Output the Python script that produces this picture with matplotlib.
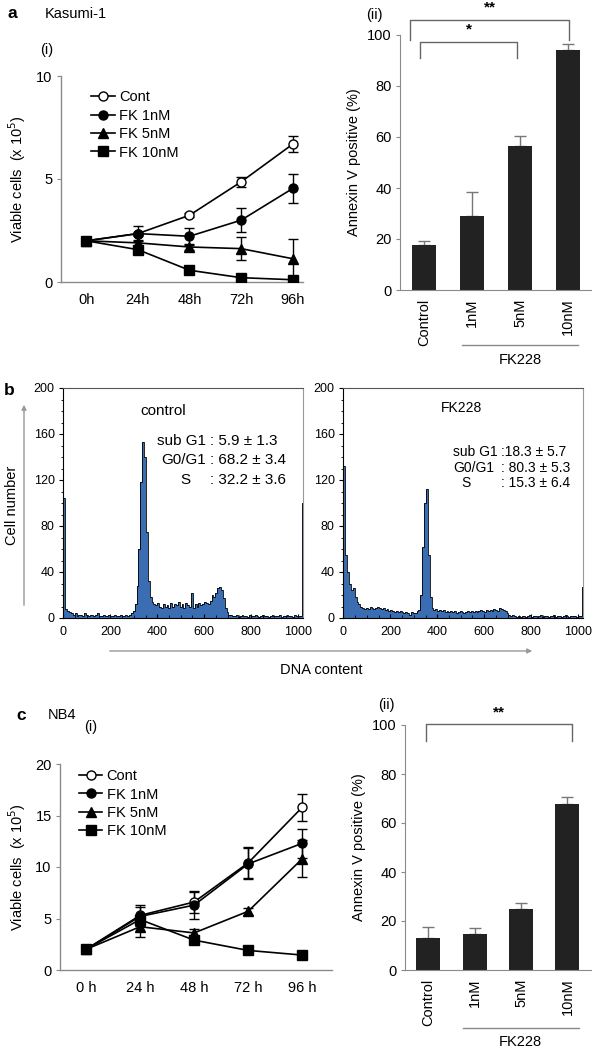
import numpy as np
import matplotlib
matplotlib.use("Agg")
import matplotlib.pyplot as plt
from matplotlib.lines import Line2D

plt.rcParams['font.family'] = ['Liberation Sans', 'DejaVu Sans']

W, H = 592, 1051

# ---- data: Kasumi-1 growth (x 10^5 cells) ----
hours = ['0h', '24h', '48h', '72h', '96h']
series_names = ['Cont', 'FK 1nM', 'FK 5nM', 'FK 10nM']
kas_cont = [2.0, 2.35, 3.24, 4.86, 6.69]
kas_cont_err = [0.05, 0.1, 0.1, 0.25, 0.38]
kas_fk1 = [2.0, 2.35, 2.22, 3.0, 4.54]
kas_fk1_err = [0.05, 0.35, 0.4, 0.57, 0.72]
kas_fk5 = [2.0, 1.9, 1.7, 1.62, 1.13]
kas_fk5_err = [0.05, 0.15, 0.15, 0.57, 0.97]
kas_fk10 = [2.0, 1.57, 0.57, 0.21, 0.11]
kas_fk10_err = [0.05, 0.08, 0.08, 0.05, 0.05]

# ---- data: Kasumi-1 annexin V ----
doses = ['Control', '1nM', '5nM', '10nM']
kas_annexin = [17.7, 29.0, 56.6, 94.0]
kas_annexin_err = [1.6, 9.6, 3.7, 2.3]

# ---- data: cell cycle histograms (8-channel bins) ----
hist_edges = np.arange(0, 1025, 8)
hist_control = [104, 8, 6, 5, 4, 3, 4, 2, 3, 3, 2, 4, 3, 2, 3, 3,
                2, 3, 4, 2, 2, 3, 2, 2, 3, 2, 2, 3, 2, 2, 3, 2,
                2, 3, 2, 3, 4, 6, 12, 28, 60, 118, 153, 140, 75, 32,
                18, 14, 12, 11, 13, 10, 9, 12, 10, 11, 9, 13, 10, 12,
                11, 14, 10, 12, 9, 13, 11, 10, 22, 9, 12, 10, 13, 11,
                12, 14, 13, 12, 15, 20, 18, 22, 26, 27, 24, 17, 9, 5,
                3, 3, 2, 2, 3, 1, 2, 3, 2, 2, 1, 3, 2, 2, 3, 2,
                1, 2, 3, 2, 2, 1, 2, 3, 2, 2, 2, 3, 1, 2, 2, 3,
                2, 2, 1, 3, 2, 2, 2, 100]
hist_fk228 = [132, 55, 40, 30, 24, 26, 18, 14, 12, 10, 9, 8, 9, 8, 10, 9,
              8, 9, 10, 9, 8, 9, 7, 8, 6, 7, 6, 5, 6, 5, 6, 5,
              4, 5, 4, 3, 5, 4, 4, 6, 7, 20, 62, 100, 112, 55, 18, 9,
              7, 8, 6, 7, 6, 7, 5, 6, 5, 6, 5, 6, 4, 5, 6, 5,
              4, 5, 6, 5, 6, 5, 6, 5, 6, 7, 6, 5, 7, 6, 7, 6,
              8, 7, 6, 9, 8, 7, 6, 4, 3, 2, 3, 2, 1, 2, 1, 2,
              2, 1, 2, 3, 1, 2, 2, 1, 2, 3, 1, 2, 2, 1, 2, 2,
              3, 1, 2, 2, 1, 2, 3, 2, 1, 2, 2, 2, 1, 2, 2, 27]
control_labels = ['sub G1', 'G0/G1', 'S']
control_values = [': 5.9 \u00b1 1.3', ': 68.2 \u00b1 3.4', ': 32.2 \u00b1 3.6']
fk_values = [':18.3 \u00b1 5.7', ': 80.3 \u00b1 5.3', ': 15.3 \u00b1 6.4']

# ---- data: NB4 growth ----
nb4_cont = [2.0, 5.3, 6.6, 10.4, 15.8]
nb4_cont_err = [0.1, 1.05, 1.1, 1.5, 1.3]
nb4_fk1 = [2.0, 5.2, 6.3, 10.3, 12.3]
nb4_fk1_err = [0.1, 0.9, 1.3, 1.5, 1.4]
nb4_fk5 = [2.0, 4.2, 3.6, 5.7, 10.8]
nb4_fk5_err = [0.1, 1.0, 0.35, 0.35, 1.8]
nb4_fk10 = [2.0, 4.9, 2.9, 1.9, 1.45]
nb4_fk10_err = [0.1, 0.2, 0.15, 0.1, 0.1]
nb4_hours = ['0 h', '24 h', '48 h', '72 h', '96 h']

# ---- data: NB4 annexin V ----
nb4_annexin = [12.9, 14.6, 24.9, 67.8]
nb4_annexin_err = [4.8, 2.4, 2.3, 2.9]

GRAY = '#8a8a8a'
BLUE = '#3b6db3'
MARKERS = ['o', 'o', '^', 's']
FACES = ['white', 'black', 'black', 'black']


def rect(left, top, right, bottom):
    return [left / W, 1 - bottom / H, (right - left) / W, (bottom - top) / H]


def ftext(x, y, s, **kw):
    fig.text(x / W, 1 - y / H, s, **kw)


def growth(ax, ys, errs, ticklabels, ylim, yticks):
    x = np.arange(len(ticklabels))
    for y, e, m, fc in zip(ys, errs, MARKERS, FACES):
        ax.errorbar(x, y, yerr=e, color='black', lw=1.2, marker=m, ms=6.5,
                    mfc=fc, mec='black', mew=1, capsize=3.5, elinewidth=1,
                    zorder=3)
    ax.set_ylim(*ylim)
    ax.set_yticks(yticks)
    ax.set_xticks(x, ticklabels)
    for s in ['top', 'right']:
        ax.spines[s].set_visible(False)
    for s in ['left', 'bottom']:
        ax.spines[s].set_color(GRAY)
        ax.spines[s].set_linewidth(1)
    ax.tick_params(axis='x', length=0, pad=8, labelsize=10.5)
    ax.tick_params(axis='y', length=3, color=GRAY, labelsize=10.5, pad=3)


def growth_legend(ax, anchor):
    handles = [Line2D([], [], color='black', lw=1.2, marker=m, ms=6.5,
                      mfc=fc, mec='black', mew=1)
               for m, fc in zip(MARKERS, FACES)]
    ax.legend(handles, series_names, loc='upper left', bbox_to_anchor=anchor,
              frameon=False, fontsize=10.5, handlelength=1.6,
              handletextpad=0.3, labelspacing=0.3, borderpad=0,
              borderaxespad=0)


def annexin(ax, vals, errs):
    x = np.arange(len(doses))
    ax.bar(x, vals, width=0.52, color='#222222', zorder=2)
    ax.errorbar(x, vals, yerr=[np.zeros(len(vals)), errs], fmt='none',
                ecolor='#777777', elinewidth=1, capsize=4, zorder=1)
    ax.set_ylim(0, 100)
    ax.set_yticks(range(0, 101, 20))
    ax.set_xticks(x, doses, rotation=90, va='top')
    for s in ['top', 'right']:
        ax.spines[s].set_visible(False)
    for s in ['left', 'bottom']:
        ax.spines[s].set_color(GRAY)
    ax.tick_params(axis='x', length=0, pad=6, labelsize=10.5)
    ax.tick_params(axis='y', length=3, color=GRAY, labelsize=10.5, pad=3)
    ax.set_ylabel('Annexin V positive (%)', fontsize=10.5, labelpad=4)


def bracket(ax, x0, x1, ytop, ybot, label):
    ax.plot([x0, x0, x1, x1], [ybot, ytop, ytop, ybot], color='#666666',
            lw=1, clip_on=False)
    ax.text((x0 + x1) / 2, ytop + 2, label, ha='center', va='bottom',
            fontsize=11, fontweight='bold', clip_on=False)


def histogram(ax, vals):
    ax.stairs(vals, hist_edges, fill=True, color=BLUE, lw=0)
    ax.stairs(vals, hist_edges, color='black', lw=0.6)
    ax.set_xlim(-2, 1022)
    ax.set_ylim(0, 200)
    ax.set_xticks(range(0, 1001, 200))
    ax.set_xticks(range(0, 1001, 50), minor=True)
    ax.set_yticks(range(0, 201, 40))
    ax.set_yticks(range(0, 201, 10), minor=True)
    ax.tick_params(axis='x', which='both', direction='in', labelsize=9, pad=6)
    ax.tick_params(axis='x', which='major', length=3)
    ax.tick_params(axis='x', which='minor', length=2)
    ax.tick_params(axis='y', which='major', length=3, labelsize=9, pad=3)
    ax.tick_params(axis='y', which='minor', length=1.5)
    ax.spines['right'].set_color('#999999')
    ax.spines['top'].set_color('#555555')
    for s in ax.spines.values():
        s.set_linewidth(0.8)


fig = plt.figure(figsize=(W / 100, H / 100), dpi=100)

# ---- panel a (i) ----
ax1 = fig.add_axes(rect(61, 76, 303, 282))
growth(ax1, [kas_cont, kas_fk1, kas_fk5, kas_fk10],
       [kas_cont_err, kas_fk1_err, kas_fk5_err, kas_fk10_err],
       hours, (0, 10), [0, 5, 10])
ax1.set_xlim(-0.49, 4.2)
ax1.set_ylabel('Viable cells  (x 10$^5$)', fontsize=10.5, labelpad=6)
growth_legend(ax1, (0.125, 0.93))
ftext(8, 14, 'a', fontsize=12.5, fontweight='bold', va='center')
ftext(45, 14, 'Kasumi-1', fontsize=10.5, va='center')
ftext(40, 50, '(i)', fontsize=10.5, va='center')

# ---- panel a (ii) ----
ax2 = fig.add_axes(rect(400, 35, 592, 290))
annexin(ax2, kas_annexin, kas_annexin_err)
ax2.set_xlim(-0.5, 3.5)
bracket(ax2, -0.29, 3.02, 105.9, 98, '**')
bracket(ax2, -0.08, 1.94, 97.3, 91, '*')
ax2.plot([0.8, 3.2], [-21.5, -21.5], color=GRAY, lw=1, clip_on=False)
ftext(520, 360, 'FK228', fontsize=10.5, ha='center', va='center')
ftext(366, 15, '(ii)', fontsize=10.5, va='center')

# ---- panel b ----
axb1 = fig.add_axes(rect(63, 388, 303, 618))
histogram(axb1, hist_control)
axb2 = fig.add_axes(rect(343, 388, 583, 618))
histogram(axb2, hist_fk228)

ftext(163, 411, 'control', fontsize=11, ha='center', va='center')
for i, (lab, val) in enumerate(zip(control_labels, control_values)):
    y = 441 + i * 19.5
    if lab == 'S':
        ftext(185, y, lab, fontsize=11, ha='center', va='center')
    else:
        ftext(206, y, lab, fontsize=11, ha='right', va='center')
    ftext(210, y, val, fontsize=11, ha='left', va='center')

ftext(462, 408, 'FK228', fontsize=10, ha='center', va='center')
for i, (lab, val) in enumerate(zip(control_labels, fk_values)):
    y = 452 + i * 15.5
    if lab == 'S':
        ftext(466, y, lab, fontsize=10, ha='center', va='center')
    else:
        ftext(494 if lab == 'G0/G1' else 498, y, lab, fontsize=10,
              ha='right', va='center')
    ftext(501, y, val, fontsize=10, ha='left', va='center')

ftext(4, 391, 'b', fontsize=12.5, fontweight='bold', va='center')
ftext(12, 505, 'Cell number', fontsize=10.5, rotation=90, ha='center',
      va='center')
fig.add_artist(matplotlib.patches.FancyArrowPatch(
    (24 / W, 1 - 608 / H), (24 / W, 1 - 402 / H), arrowstyle='-|>',
    mutation_scale=7, color='#999999', lw=1, transform=fig.transFigure))
fig.add_artist(matplotlib.patches.FancyArrowPatch(
    (107 / W, 1 - 651 / H), (535 / W, 1 - 651 / H), arrowstyle='-|>',
    mutation_scale=7, color='#999999', lw=1, transform=fig.transFigure))
ftext(321, 670, 'DNA content', fontsize=10.5, ha='center', va='center')

# ---- panel c (i) ----
ax3 = fig.add_axes(rect(60, 764, 332, 970))
growth(ax3, [nb4_cont, nb4_fk1, nb4_fk5, nb4_fk10],
       [nb4_cont_err, nb4_fk1_err, nb4_fk5_err, nb4_fk10_err],
       nb4_hours, (0, 20), [0, 5, 10, 15, 20])
ax3.set_xlim(-0.48, 4.55)
ax3.set_ylabel('Viable cells  (x 10$^5$)', fontsize=10.5, labelpad=5)
growth_legend(ax3, (0.07, 0.975))
ftext(16, 715, 'c', fontsize=12.5, fontweight='bold', va='center')
ftext(48, 715, 'NB4', fontsize=10.5, va='center')
ftext(84, 727, '(i)', fontsize=10.5, va='center')

# ---- panel c (ii) ----
ax4 = fig.add_axes(rect(405, 725, 592, 970))
annexin(ax4, nb4_annexin, nb4_annexin_err)
ax4.set_xlim(-0.5, 3.53)
bracket(ax4, -0.04, 3.1, 100.4, 93.5, '**')
ax4.plot([0.75, 3.25], [-23.5, -23.5], color=GRAY, lw=1, clip_on=False)
ftext(520, 1042, 'FK228', fontsize=10.5, ha='center', va='center')
ftext(378, 705, '(ii)', fontsize=10.5, va='center')

fig.savefig('out.png', dpi=100)
